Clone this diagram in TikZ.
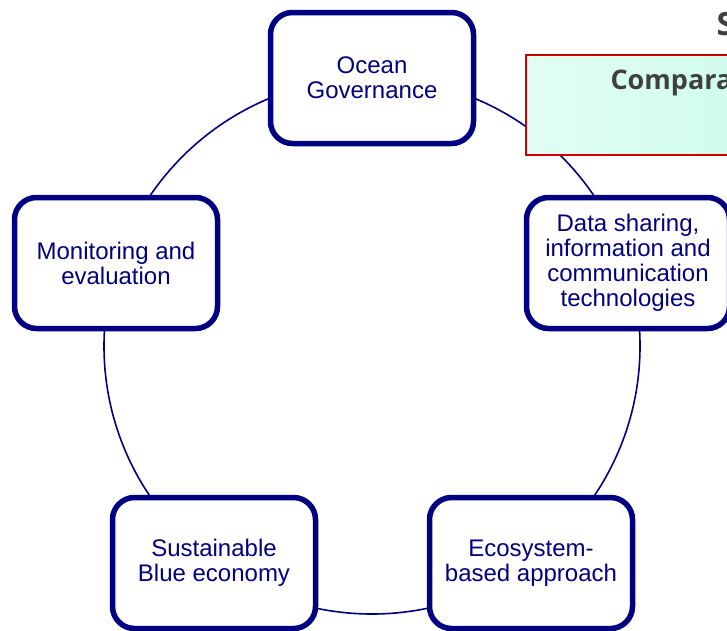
\documentclass[tikz,border=0pt]{standalone}
\usepackage{fontspec}
\setmainfont{Liberation Sans}
\newfontfamily\headfont{Open Sans}
\usepackage{tikz}

\definecolor{ringblue}{RGB}{0,0,128}
\definecolor{headgray}{RGB}{64,64,64}
\definecolor{boxred}{RGB}{204,0,0}
\definecolor{mintleft}{RGB}{226,253,244}
\definecolor{mintright}{RGB}{204,252,236}

\tikzset{
  theme/.style={draw=ringblue, line width=5.5pt, rounded corners=22pt, fill=white,
    minimum width=203pt, minimum height=131pt, inner sep=0pt, align=center,
    text=ringblue, font=\fontsize{24}{25}\selectfont},
  headtext/.style={anchor=base west, text=headgray, font=\headfont\bfseries}
}

\begin{document}
\begin{tikzpicture}[x=1pt,y=-1pt]
\useasboundingbox (0,0) rectangle (727,630);
\clip (0,0) rectangle (727,630);
\coordinate (ctr) at (372,346);
\draw[ringblue,line width=1.6pt] (ctr) circle[radius=268pt];
\node[draw=boxred,line width=2pt,left color=mintleft,right color=mintright,
  minimum width=260pt,minimum height=100pt,anchor=north west] (cmpbox) at (525,54) {};
\node[headtext,font=\headfont\bfseries\fontsize{27}{30}\selectfont] (cmptext) at (607,89) {Compara};
\node[headtext,font=\headfont\bfseries\fontsize{32}{36}\selectfont] (title) at (713,35) {S};
\node[theme] (gov) at (372,78) {Ocean\\Governance};
\node[theme] (data) at (628,263) {Data sharing,\\information and\\communication\\technologies};
\node[theme] (eco) at (531,563) {Ecosystem-\\based approach};
\node[theme] (blue) at (214,563) {Sustainable\\Blue economy};
\node[theme] (mon) at (116,263) {Monitoring and\\evaluation};
\end{tikzpicture}
\end{document}
